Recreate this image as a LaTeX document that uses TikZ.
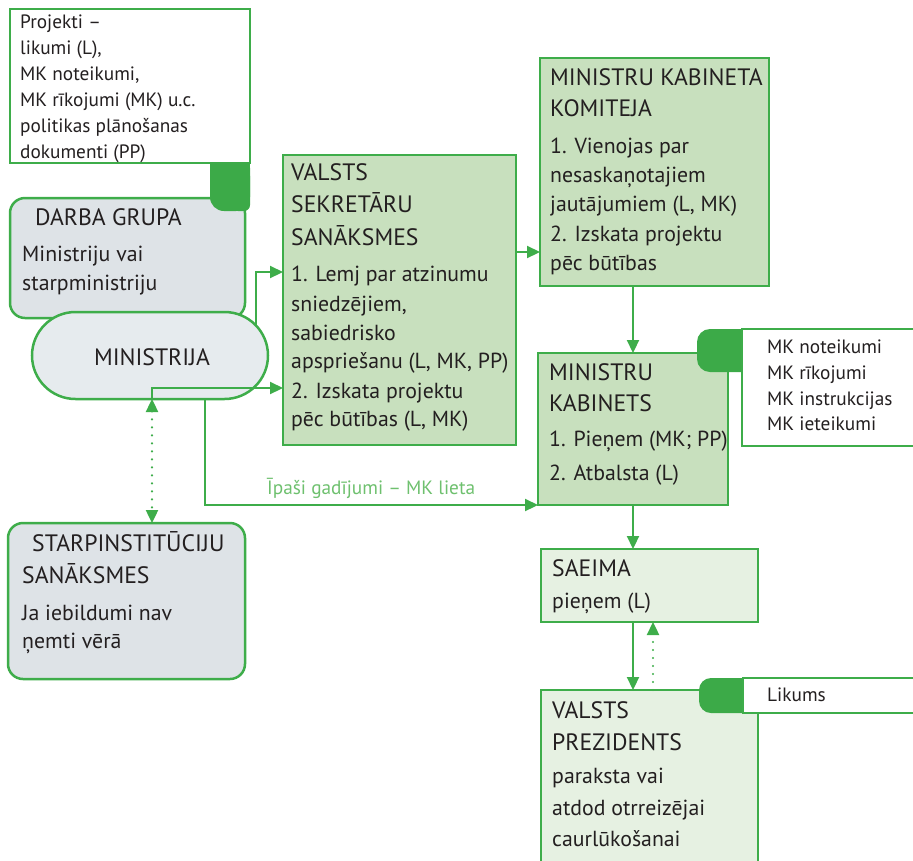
\documentclass[tikz,border=0pt]{standalone}
\usepackage{fontspec}
\setmainfont{PT Sans}
\usetikzlibrary{arrows.meta}
\definecolor{gline}{RGB}{62,173,74}
\definecolor{gtab}{RGB}{60,170,72}
\definecolor{gfill}{RGB}{200,224,190}
\definecolor{pfill}{RGB}{230,241,226}
\definecolor{grayfill}{RGB}{222,227,231}
\definecolor{ellfill}{RGB}{230,235,238}
\definecolor{txtc}{RGB}{35,31,32}
\definecolor{lblc}{RGB}{110,192,110}
\newcommand\titf{\fontsize{23.7}{29}\selectfont}
\newcommand\bigf{\fontsize{21.8}{29}\selectfont}
\newcommand\smallf{\fontsize{19.3}{26}\selectfont}
\begin{document}
\begin{tikzpicture}[x=1pt,y=-1pt,
 box/.style={draw=gline,line width=2.5pt,inner sep=0pt,outer sep=0pt,anchor=north west},
 tt/.style={anchor=base west,inner sep=0pt,text=txtc,font=\titf},
 tx/.style={anchor=base west,inner sep=0pt,text=txtc,font=\bigf},
 sx/.style={anchor=base west,inner sep=0pt,text=txtc,font=\smallf},
 arr/.style={draw=gline,line width=2.2pt,-{Triangle[length=13pt,width=12pt]}},
 dotline/.style={draw=gline,line width=2.4pt,line cap=round,dash pattern=on 0pt off 8pt},
 dotarr/.style={dotline,{Triangle[length=13pt,width=12pt]}-{Triangle[length=13pt,width=12pt]}},
 dotup/.style={dotline,-{Triangle[length=13pt,width=12pt]}}]
\path[use as bounding box] (0,0) rectangle (913,860);

% boxes
\node[box,fill=white,minimum width=240pt,minimum height=154pt] (proj) at (10,9) {};
\node[box,fill=grayfill,rounded corners=15pt,minimum width=235pt,minimum height=120pt] (darba) at (10,198) {};
\node[box,fill=grayfill,rounded corners=15pt,minimum width=237pt,minimum height=156pt] (starp) at (8,523) {};
\node[box,fill=gfill,minimum width=233pt,minimum height=290pt] (vss) at (283,155) {};
\node[box,fill=gfill,minimum width=229pt,minimum height=228pt] (mkk) at (540,58) {};
\node[box,fill=gfill,minimum width=190pt,minimum height=152pt] (mk) at (538,353) {};
\node[box,fill=pfill,minimum width=217pt,minimum height=73pt] (saeima) at (541,549) {};
\node[box,fill=pfill,minimum width=217pt,minimum height=190pt] (pres) at (541,690) {};

% tabs
\fill[gtab,rounded corners=14pt] (210,162) rectangle (250,211);
\fill[gtab] (210,162) rectangle (250,195);
\fill[gtab,rounded corners=6pt] (232,162) rectangle (250,211);
\node[draw=gline,line width=2.5pt,fill=ellfill,rounded corners=43.5pt,minimum width=236pt,minimum height=87pt,inner sep=0pt,outer sep=0pt] (min) at (150,355.5) {};

\fill[gtab,rounded corners=13pt] (697,329) rectangle (770,372);
\node[box,fill=white,minimum width=180pt,minimum height=117pt] (mkout) at (742,329) {};
\fill[gtab,rounded corners=12pt] (699,678) rectangle (770,713);
\node[box,fill=white,minimum width=180pt,minimum height=35pt] (likout) at (743,678) {};

% texts
\foreach \yy/\txt [count=\i] in {28/{Projekti –},54/{likumi (L),},80/{MK noteikumi,},106/{MK rīkojumi (MK) u.c.},132/{politikas plānošanas},158/{dokumenti (PP)}}
  \node[sx] (projt\i) at (20,\yy) {\txt};
\node[tt] (darbat1) at (35,225) {DARBA GRUPA};
\node[tx] (darbat2) at (22,261) {Ministriju vai};
\node[tx] (darbat3) at (22,290) {starpministriju};
\node[anchor=center,inner sep=0pt,text=txtc,font=\titf] (mint) at (152,357) {MINISTRIJA};
\node[tt] (starpt1) at (32,551) {STARPINSTITŪCIJU};
\node[tt] (starpt2) at (22,583) {SANĀKSMES};
\node[tx] (starpt3) at (22,620) {Ja iebildumi nav};
\node[tx] (starpt4) at (22,648) {ņemti vērā};
\foreach \yy/\txt [count=\i] in {180/VALSTS,212/SEKRETĀRU,245/SANĀKSMES}
  \node[tt] (vsstt\i) at (291,\yy) {\txt};
\foreach \yy/\txt [count=\i] in {281/{1. Lemj par atzinumu},311/{sniedzējiem,},340/sabiedrisko,368/{apspriešanu (L, MK, PP)},398/{2. Izskata projektu},426/{pēc būtības (L, MK)}}
  \node[tx] (vsst\i) at (291,\yy) {\txt};
\foreach \yy/\txt [count=\i] in {85/{MINISTRU KABINETA},116/KOMITEJA}
  \node[tt] (mkktt\i) at (550,\yy) {\txt};
\foreach \yy/\txt [count=\i] in {153/{1. Vienojas par},182/nesaskaņotajiem,211/{jautājumiem (L, MK)},241/{2. Izskata projektu},270/{pēc būtības}}
  \node[tx] (mkkt\i) at (550,\yy) {\txt};
\foreach \yy/\txt [count=\i] in {380/MINISTRU,411/KABINETS}
  \node[tt] (mktt\i) at (549,\yy) {\txt};
\foreach \yy/\txt [count=\i] in {446/{1. Pieņem (MK; PP)},480/{2. Atbalsta (L)}}
  \node[tx] (mkt\i) at (549,\yy) {\txt};
\foreach \yy/\txt [count=\i] in {353/{MK noteikumi},379/{MK rīkojumi},405/{MK instrukcijas},430/{MK ieteikumi}}
  \node[sx] (mkoutt\i) at (767,\yy) {\txt};
\node[tt] (saeimat1) at (552,576) {SAEIMA};
\node[tx] (saeimat2) at (552,608) {pieņem (L)};
\foreach \yy/\txt [count=\i] in {718/VALSTS,750/PREZIDENTS}
  \node[tt] (prestt\i) at (552,\yy) {\txt};
\foreach \yy/\txt [count=\i] in {783/{paraksta vai},815/{atdod otrreizējai},846/caurlūkošanai}
  \node[tx] (prest\i) at (552,\yy) {\txt};
\node[sx] (likt) at (767,701) {Likums};

% connectors
\coordinate (m1) at (256,325.5);
\coordinate (v1) at (283,272);
\coordinate (m2) at (152,399);
\coordinate (v2) at (283,388);
\coordinate (m3) at (205,399);
\draw[arr] (m1) |- (v1);
\draw[arr] (m2) |- (v2);
\draw[dotarr] (m2) -- (starp.north -| m2);
\draw[arr] (m3) |- (mk.south west);
\node[anchor=base west,inner sep=0pt,text=lblc,font=\smallf] (lbl) at (267,494) {Īpaši gadījumi – MK lieta};
\draw[arr] (vss.east |- 0,252) -- (mkk.west |- 0,252);
\draw[arr] (mkk.south -| 633,0) -- (mk.north -| 633,0);
\draw[arr] (mk.south -| 633,0) -- (saeima.north -| 633,0);
\draw[arr] (saeima.south -| 633,0) -- (pres.north -| 633,0);
\draw[dotup] (pres.north -| 653,0) -- (saeima.south -| 653,0);
\end{tikzpicture}
\end{document}
